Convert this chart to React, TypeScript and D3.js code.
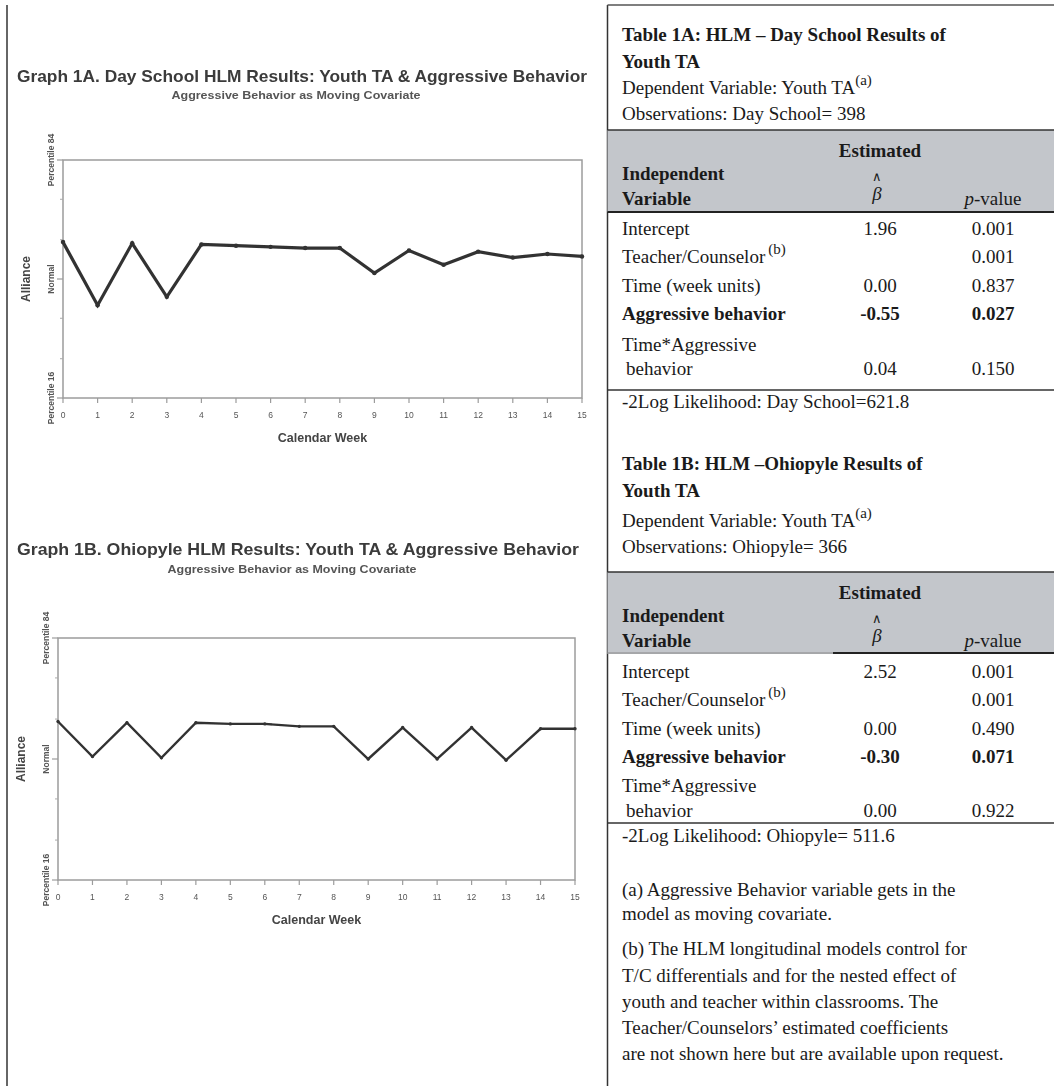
import React from "react";
import * as d3 from "d3";

// ---------- DATA ----------
const weeks = [0, 1, 2, 3, 4, 5, 6, 7, 8, 9, 10, 11, 12, 13, 14, 15];
const weekLabels = ["0", "1", "2", "3", "4", "5", "6", "7", "8", "9", "10", "11", "12", "13", "14", "15"];
const daySchoolTA = [0.31, -0.22, 0.3, -0.15, 0.29, 0.28, 0.27, 0.26, 0.26, 0.05, 0.24, 0.12, 0.23, 0.18, 0.21, 0.19];
const ohiopyleTA = [0.31, 0.02, 0.3, 0.01, 0.3, 0.29, 0.29, 0.27, 0.27, 0.0, 0.26, 0.0, 0.26, -0.01, 0.25, 0.25];
const yTickValues = [-1, 0, 1];
const yTickLabels = ["Percentile 16", "Normal", "Percentile 84"];
const yMinorTicks = [-0.67, -0.33, 0.33, 0.67];

const table1ALabels = ["Intercept", "Teacher/Counselor", "Time (week units)", "Aggressive behavior"];
const table1ABeta = ["1.96", "", "0.00", "-0.55"];
const table1AP = ["0.001", "0.001", "0.837", "0.027"];
const table1AInteraction = ["0.04", "0.150"];

const table1BLabels = ["Intercept", "Teacher/Counselor", "Time (week units)", "Aggressive behavior"];
const table1BBeta = ["2.52", "", "0.00", "-0.30"];
const table1BP = ["0.001", "0.001", "0.490", "0.071"];
const table1BInteraction = ["0.00", "0.922"];

const notes = [
  "(a) Aggressive Behavior variable gets in the",
  "model as moving covariate.",
  "(b) The HLM longitudinal models control for",
  "T/C differentials and for the nested effect of",
  "youth and teacher within classrooms. The",
  "Teacher/Counselors\u2019 estimated coefficients",
  "are not shown here but are available upon request.",
];

const SANS = "'Liberation Sans', Arial, sans-serif";
const SERIF = "'Liberation Serif', 'Times New Roman', serif";

type ChartProps = {
  title: string;
  subtitle: string;
  values: number[];
  left: number;
  right: number;
  top: number;
  bottom: number;
  titleY: number;
  subtitleY: number;
  titleX: number;
  titleWidth: number;
  lineWidth: number;
};

function Chart(p: ChartProps) {
  const x = d3.scaleLinear().domain([0, 15]).range([p.left, p.right]);
  const y = d3.scaleLinear().domain([-1, 1]).range([p.bottom, p.top]);
  const line = d3
    .line<number>()
    .x((_, i) => x(weeks[i]))
    .y((d) => y(d));
  const mid = (p.left + p.right) / 2;
  return (
    <g filter="url(#soft)">
      <text
        x={p.titleX}
        y={p.titleY}
        textAnchor="middle"
        fontFamily={SANS}
        fontSize={16.5}
        fontWeight="bold"
        fill="#3a3a3a"
        textLength={p.titleWidth}
        lengthAdjust="spacingAndGlyphs"
      >
        {p.title}
      </text>
      <text
        x={p.titleX - 6}
        y={p.subtitleY}
        textAnchor="middle"
        fontFamily={SANS}
        fontSize={11}
        fontWeight="bold"
        fill="#555"
        textLength={249}
        lengthAdjust="spacingAndGlyphs"
      >
        {p.subtitle}
      </text>
      <rect x={p.left} y={p.top} width={p.right - p.left} height={p.bottom - p.top} fill="none" stroke="#9c9c9c" strokeWidth={1.5} />
      {yTickValues.map((v) => (
        <line key={"ym" + v} x1={p.left - 6} x2={p.left} y1={y(v)} y2={y(v)} stroke="#9c9c9c" strokeWidth={1.2} />
      ))}
      {yMinorTicks.map((v) => (
        <line key={"yn" + v} x1={p.left - 3} x2={p.left} y1={y(v)} y2={y(v)} stroke="#aaa" strokeWidth={1} />
      ))}
      {yTickValues.map((v, i) => (
        <text
          key={"yl" + v}
          transform={`translate(${p.left - 9},${y(v)}) rotate(-90)`}
          textAnchor="middle"
          fontFamily={SANS}
          fontSize={8.5}
          fontWeight="bold"
          fill="#555"
        >
          {yTickLabels[i]}
        </text>
      ))}
      <text
        transform={`translate(${p.left - 33},${y(0)}) rotate(-90)`}
        textAnchor="middle"
        fontFamily={SANS}
        fontSize={12}
        fontWeight="bold"
        fill="#444"
      >
        Alliance
      </text>
      {weeks.map((w, i) => (
        <g key={"xt" + w}>
          <line x1={x(w)} x2={x(w)} y1={p.bottom} y2={p.bottom + 5} stroke="#9c9c9c" strokeWidth={1.2} />
          <text x={x(w)} y={p.bottom + 20} textAnchor="middle" fontFamily={SANS} fontSize={8.5} fill="#555">
            {weekLabels[i]}
          </text>
        </g>
      ))}
      <text x={mid} y={p.bottom + 44} textAnchor="middle" fontFamily={SANS} fontSize={12.5} fontWeight="bold" fill="#444">
        Calendar Week
      </text>
      <path d={line(p.values) || ""} fill="none" stroke="#333" strokeWidth={p.lineWidth} strokeLinejoin="miter" />
      {p.values.map((v, i) => (
        <circle key={"pt" + i} cx={x(weeks[i])} cy={y(v)} r={p.lineWidth * 0.7} fill="#333" />
      ))}
    </g>
  );
}

type TableProps = {
  titleLines: string[];
  titleYs: number[];
  obsText: string;
  headerTop: number;
  labels: string[];
  beta: string[];
  pvals: string[];
  interaction: string[];
  rowYs: number[];
  bottomLineY: number;
  logLik: string;
  logLikY: number;
  splitBottom: boolean;
};

const TL = 622;
const BX = 880;
const PX = 993;
const RIGHT = 1054;
const DIV = 607.5;

function Table(t: TableProps) {
  const h = t.headerTop;
  return (
    <g fontFamily={SERIF} fontSize={19} fill="#1a1a1a">
      <text x={TL} y={t.titleYs[0]} fontWeight="bold">{t.titleLines[0]}</text>
      <text x={TL} y={t.titleYs[1]} fontWeight="bold">{t.titleLines[1]}</text>
      <text x={TL} y={t.titleYs[2]}>
        Dependent Variable: Youth TA
        <tspan dy={-9} fontSize={15}>(a)</tspan>
      </text>
      <text x={TL} y={t.titleYs[3]}>{t.obsText}</text>
      <rect x={DIV} y={h} width={RIGHT - DIV} height={82} fill="#c3c6cb" />
      <line x1={DIV} x2={RIGHT} y1={h} y2={h} stroke="#333" strokeWidth={1.6} />
      {t.splitBottom ? (
        <g>
          <line x1={DIV} x2={833} y1={h + 81} y2={h + 81} stroke="#888" strokeWidth={1} />
          <line x1={833} x2={RIGHT} y1={h + 81} y2={h + 81} stroke="#222" strokeWidth={2} />
        </g>
      ) : (
        <line x1={DIV} x2={RIGHT} y1={h + 82} y2={h + 82} stroke="#222" strokeWidth={1.8} />
      )}
      <text x={BX} y={h + 27} textAnchor="middle" fontWeight="bold">Estimated</text>
      <text x={TL} y={h + 50} fontWeight="bold">Independent</text>
      <text x={BX - 3} y={h + 51} textAnchor="middle" fontSize={13}>{"\u2227"}</text>
      <text x={BX - 3} y={h + 70} textAnchor="middle" fontStyle="italic">{"\u03B2"}</text>
      <text x={TL} y={h + 75} fontWeight="bold">Variable</text>
      <text x={PX} y={h + 75} textAnchor="middle">
        <tspan fontStyle="italic">p</tspan>-value
      </text>
      {t.labels.map((lab, i) => {
        const bold = i === 3;
        return (
          <g key={"r" + i} fontWeight={bold ? "bold" : "normal"}>
            <text x={TL} y={t.rowYs[i]}>
              {lab}
              {i === 1 ? <tspan dy={-9} dx={3} fontSize={15}>(b)</tspan> : null}
            </text>
            <text x={BX} y={t.rowYs[i]} textAnchor="middle">{t.beta[i]}</text>
            <text x={PX} y={t.rowYs[i]} textAnchor="middle">{t.pvals[i]}</text>
          </g>
        );
      })}
      <text x={TL} y={t.rowYs[4]}>Time*Aggressive</text>
      <text x={TL + 4} y={t.rowYs[5]}>behavior</text>
      <text x={BX} y={t.rowYs[5]} textAnchor="middle">{t.interaction[0]}</text>
      <text x={PX} y={t.rowYs[5]} textAnchor="middle">{t.interaction[1]}</text>
      <line x1={DIV} x2={RIGHT} y1={t.bottomLineY} y2={t.bottomLineY} stroke="#333" strokeWidth={1.6} />
      <text x={TL} y={t.logLikY}>{t.logLik}</text>
    </g>
  );
}

export default function App() {
  const noteYs = [896, 920, 955, 982, 1008, 1034, 1060];
  return (
    <svg width={1054} height={1086} style={{ position: "absolute", left: 0, top: 0, background: "#fff" }}>
      <defs>
        <filter id="soft" x="-5%" y="-5%" width="110%" height="110%">
          <feGaussianBlur stdDeviation={0.55} />
        </filter>
      </defs>
      <rect x={0} y={0} width={1054} height={1086} fill="#fff" />
      {/* frame */}
      <line x1={7} x2={7} y1={5} y2={1086} stroke="#333" strokeWidth={1.5} />
      <line x1={DIV} x2={DIV} y1={5} y2={1086} stroke="#333" strokeWidth={1.5} />
      <line x1={DIV} x2={RIGHT} y1={5} y2={5} stroke="#555" strokeWidth={1.5} />

      <Chart
        title="Graph 1A. Day School HLM Results: Youth TA & Aggressive Behavior"
        subtitle="Aggressive Behavior as Moving Covariate"
        values={daySchoolTA}
        left={63}
        right={582}
        top={160}
        bottom={398}
        titleX={302}
        titleY={82}
        titleWidth={570}
        subtitleY={99}
        lineWidth={3.2}
      />
      <Chart
        title="Graph 1B. Ohiopyle HLM Results: Youth TA & Aggressive Behavior"
        subtitle="Aggressive Behavior as Moving Covariate"
        values={ohiopyleTA}
        left={58}
        right={575}
        top={638}
        bottom={880}
        titleX={298}
        titleY={555}
        titleWidth={562}
        subtitleY={573}
        lineWidth={2.4}
      />

      <Table
        titleLines={["Table 1A: HLM \u2013 Day School Results of", "Youth TA"]}
        titleYs={[41, 68, 94, 120]}
        obsText="Observations: Day School= 398"
        headerTop={130}
        labels={table1ALabels}
        beta={table1ABeta}
        pvals={table1AP}
        interaction={table1AInteraction}
        rowYs={[235, 263, 292, 320, 351, 375]}
        bottomLineY={390}
        logLik="-2Log Likelihood: Day School=621.8"
        logLikY={408}
        splitBottom={false}
      />
      <Table
        titleLines={["Table 1B: HLM \u2013Ohiopyle Results of", "Youth TA"]}
        titleYs={[470, 497, 527, 553]}
        obsText="Observations: Ohiopyle= 366"
        headerTop={572}
        labels={table1BLabels}
        beta={table1BBeta}
        pvals={table1BP}
        interaction={table1BInteraction}
        rowYs={[678, 706, 735, 763, 792, 817]}
        bottomLineY={823}
        logLik="-2Log Likelihood: Ohiopyle= 511.6"
        logLikY={842}
        splitBottom={true}
      />
      <g fontFamily={SERIF} fontSize={19} fill="#1a1a1a">
        {notes.map((n, i) => (
          <text key={"n" + i} x={TL} y={noteYs[i]}>{n}</text>
        ))}
      </g>
    </svg>
  );
}
